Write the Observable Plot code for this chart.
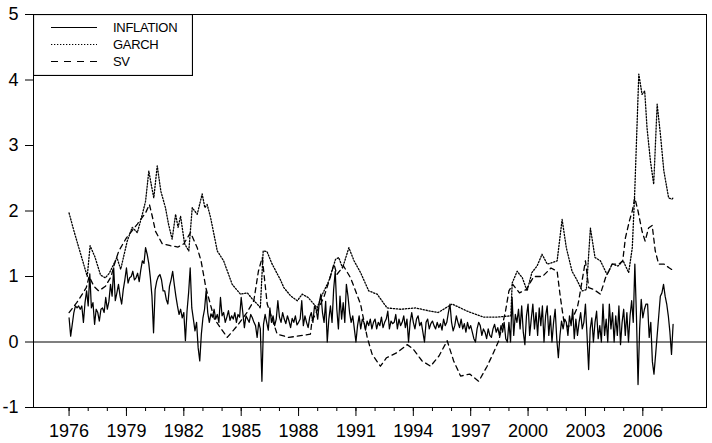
<!DOCTYPE html>
<html><head><meta charset="utf-8">
<script src="https://cdn.jsdelivr.net/npm/d3@7"></script>
<script src="https://cdn.jsdelivr.net/npm/@observablehq/plot@0.6"></script>
<style>
body{margin:0;background:#fff;}
#wrap{position:relative;width:712px;height:443px;font-family:"Liberation Sans",Arial,sans-serif;}
#legend{position:absolute;left:33px;top:14px;}
svg.mainchart text{font-size:18px !important;font-family:"Liberation Sans",Arial,sans-serif;}
</style></head><body><div id="wrap"></div>
<script>
const seriesNames = ["INFLATION", "GARCH", "SV"];
const startYear = 1976;
// monthly inflation, one row per year (1976 ... 2007)
const inflationMonthly = [
  [0.37, 0.09, 0.27, 0.45, 0.55, 0.52, 0.55, 0.5, 0.55, 0.3, 0.6, 0.78],
  [0.55, 1.04, 0.52, 0.6, 0.27, 0.5, 0.45, 0.32, 0.5, 0.52, 0.45, 0.68],
  [0.5, 0.62, 0.88, 0.7, 1.13, 0.63, 0.75, 0.88, 0.7, 0.58, 0.8, 0.95],
  [1.13, 0.9, 0.98, 1.0, 1.08, 0.95, 0.98, 1.05, 0.92, 1.1, 1.24, 1.2],
  [1.44, 1.34, 1.2, 0.98, 0.7, 0.14, 0.8, 0.93, 1.0, 1.03, 0.95, 0.78],
  [0.78, 0.65, 0.58, 0.85, 0.95, 1.08, 0.88, 0.7, 0.55, 0.42, 0.5, 0.37],
  [0.45, 0.02, 0.47, 0.75, 1.13, 0.52, 0.35, 0.17, 0.3, -0.09, -0.29, 0.12],
  [0.37, 0.5, 0.78, 0.45, 0.3, 0.43, 0.38, 0.5, 0.35, 0.42, 0.3, 0.68],
  [0.4, 0.45, 0.3, 0.38, 0.48, 0.33, 0.4, 0.35, 0.45, 0.3, 0.42, 0.38],
  [0.68, 0.45, 0.22, 0.4, 0.35, 0.3, 0.42, 0.37, 0.3, 0.25, 0.07, 0.3],
  [0.2, -0.6, 0.27, 0.42, 0.3, 0.18, 0.52, 0.3, 0.4, 0.25, 0.35, 0.63],
  [0.38, 0.3, 0.45, 0.35, 0.28, 0.4, 0.32, 0.22, 0.36, 0.3, 0.4, 0.26],
  [0.3, 0.35, 0.63, 0.25, 0.4, 0.3, 0.22, 0.38, 0.45, 0.3, 0.55, 0.5],
  [0.35, 0.6, 0.73, 0.45, 0.3, 0.62, 0.0, 0.35, 0.55, 0.3, 0.8, 1.08],
  [0.5, 0.2, 0.7, 0.35, 0.6, 0.3, 0.88, 0.7, 0.45, 0.3, 0.4, 0.2],
  [0.0, 0.25, 0.4, 0.2, 0.35, 0.3, 0.18, 0.32, 0.25, 0.35, 0.2, 0.3],
  [0.35, 0.2, 0.3, 0.25, 0.38, 0.22, 0.3, 0.35, 0.47, 0.2, 0.32, 0.28],
  [0.3, 0.42, 0.2, 0.35, 0.25, 0.3, 0.4, 0.22, 0.35, 0.0, 0.3, 0.45],
  [0.3, 0.2, 0.35, 0.4, 0.25, 0.3, 0.15, 0.0, 0.3, 0.35, 0.2, 0.28],
  [0.32, 0.25, 0.2, 0.3, 0.22, 0.28, 0.18, 0.35, 0.25, 0.3, 0.45, 0.58],
  [0.3, 0.17, 0.25, 0.4, 0.3, 0.22, 0.35, 0.2, 0.28, 0.15, 0.3, 0.2],
  [0.25, 0.15, 0.05, 0.0, 0.2, 0.3, 0.25, 0.1, 0.2, 0.15, 0.05, 0.2],
  [0.1, 0.07, 0.2, 0.27, 0.15, 0.22, 0.1, 0.25, 0.15, 0.3, 0.05, 0.0],
  [0.3, 0.0, 0.68, 0.1, 0.42, 0.3, 0.5, 0.2, 0.55, 0.15, -0.04, 0.4],
  [0.58, 0.1, 0.35, 0.58, 0.2, 0.45, 0.1, 0.52, 0.25, 0.55, 0.0, 0.4],
  [0.55, 0.1, 0.4, 0.0, 0.3, 0.5, 0.05, -0.24, 0.1, 0.32, 0.2, 0.35],
  [0.3, 0.1, 0.4, 0.25, 0.5, 0.05, 0.35, 0.1, 0.3, 0.45, 0.2, 0.3],
  [0.58, 0.1, -0.42, 0.2, 0.37, 0.0, 0.3, 0.47, 0.05, 0.25, 0.0, 0.58],
  [0.1, 0.35, 0.0, 0.58, 0.2, 0.45, 0.0, 0.4, 0.1, 0.55, -0.04, 0.3],
  [0.5, 0.1, 0.45, 0.0, 0.4, 0.63, 0.3, 1.19, 0.4, -0.65, 0.2, 0.65],
  [0.37, 0.5, 0.58, 0.58, 0.07, 0.3, -0.3, -0.49, -0.2, 0.1, 0.4, 0.7],
  [0.75, 0.88, 0.7, 0.58, 0.4, 0.15, -0.19, 0.27]
];
// GARCH conditional volatility: [year, value]
const garch = [
  [1976.0,1.97],[1976.25,1.7],[1976.5,1.45],[1976.75,1.2],[1976.95,1.0],[1977.1,1.47],[1977.35,1.3],
  [1977.65,1.02],[1977.9,0.98],[1978.1,1.05],[1978.34,1.19],[1978.5,1.29],[1978.7,1.11],[1979.04,1.54],
  [1979.3,1.75],[1979.57,1.67],[1979.83,1.95],[1980.0,2.15],[1980.17,2.61],[1980.3,2.4],[1980.43,2.2],
  [1980.61,2.69],[1980.8,2.3],[1981.04,2.05],[1981.2,1.8],[1981.39,1.57],[1981.57,1.95],[1981.7,1.75],
  [1981.83,1.92],[1982.04,1.5],[1982.26,1.39],[1982.44,2.05],[1982.7,1.95],[1982.96,2.26],[1983.1,2.05],
  [1983.22,2.1],[1983.4,1.9],[1983.75,1.39],[1984.08,1.24],[1984.53,0.88],[1984.96,0.73],[1985.32,0.75],
  [1985.6,0.65],[1985.84,0.58],[1986.0,0.52],[1986.15,1.39],[1986.35,1.38],[1986.6,1.2],[1987.05,0.95],
  [1987.23,0.83],[1987.6,0.7],[1987.93,0.63],[1988.19,0.73],[1988.5,0.68],[1988.97,0.52],[1989.2,0.7],
  [1989.58,0.93],[1989.93,1.26],[1990.1,1.29],[1990.3,1.13],[1990.63,1.44],[1990.9,1.24],[1991.24,1.06],
  [1991.67,0.78],[1992.11,0.73],[1992.63,0.52],[1993.33,0.5],[1994.11,0.52],[1994.9,0.47],[1995.3,0.45],
  [1996.03,0.58],[1996.82,0.47],[1997.68,0.38],[1998.38,0.38],[1999.1,0.4],[1999.17,0.9],[1999.43,1.08],
  [1999.7,0.98],[1999.95,0.78],[2000.2,1.06],[2000.47,1.16],[2000.73,1.34],[2001.0,1.19],[2001.25,1.21],
  [2001.52,1.24],[2001.78,1.87],[2002.0,1.44],[2002.3,1.08],[2002.55,0.95],[2002.83,0.78],[2003.05,0.8],
  [2003.26,1.74],[2003.5,1.29],[2003.78,1.24],[2004.13,1.03],[2004.4,1.19],[2004.7,1.16],[2004.97,1.24],
  [2005.26,1.06],[2005.45,1.44],[2005.58,2.31],[2005.79,4.09],[2005.96,3.78],[2006.1,3.83],[2006.22,3.27],
  [2006.4,2.76],[2006.57,2.41],[2006.75,3.63],[2006.92,3.17],[2007.1,2.61],[2007.35,2.2],[2007.52,2.18],
  [2007.58,2.2]
];
// stochastic volatility: [year, value]
const sv = [
  [1976.0,0.45],[1976.4,0.6],[1976.69,0.73],[1976.9,0.83],[1977.05,1.0],[1977.3,0.85],[1977.55,0.78],
  [1977.9,0.85],[1978.2,1.0],[1978.34,1.16],[1978.6,1.39],[1979.0,1.59],[1979.57,1.8],[1980.0,1.97],
  [1980.2,2.1],[1980.35,1.92],[1980.52,1.69],[1980.87,1.5],[1981.3,1.47],[1981.7,1.45],[1982.0,1.5],
  [1982.35,1.67],[1982.7,1.44],[1982.9,1.24],[1983.05,1.0],[1983.15,0.83],[1983.6,0.35],[1984.27,0.07],
  [1984.8,0.25],[1985.3,0.45],[1985.66,0.63],[1985.9,1.08],[1986.1,1.29],[1986.25,0.88],[1986.36,0.58],
  [1986.88,0.12],[1987.49,0.07],[1988.2,0.1],[1988.62,0.12],[1988.7,0.32],[1989.32,0.68],[1989.67,1.0],
  [1989.85,1.19],[1990.0,1.03],[1990.35,1.16],[1990.72,0.98],[1991.24,0.58],[1991.59,0.07],[1991.85,-0.19],
  [1992.28,-0.37],[1992.6,-0.24],[1993.16,-0.16],[1993.68,-0.04],[1994.0,-0.11],[1994.46,-0.29],[1994.9,-0.37],
  [1995.35,-0.21],[1995.77,0.02],[1996.11,-0.29],[1996.47,-0.52],[1996.95,-0.49],[1997.42,-0.6],[1997.86,-0.37],
  [1998.15,-0.19],[1998.47,0.02],[1998.82,0.47],[1999.0,0.78],[1999.2,0.88],[1999.55,0.75],[1999.9,0.8],
  [2000.3,1.0],[2000.75,1.0],[2001.2,1.13],[2001.52,1.08],[2001.69,0.68],[2001.87,0.32],[2002.1,0.22],
  [2002.57,0.52],[2002.65,0.63],[2003.0,1.24],[2003.17,0.83],[2003.45,0.8],[2003.78,0.73],[2004.05,0.98],
  [2004.4,1.19],[2004.75,1.19],[2004.95,1.24],[2005.09,1.59],[2005.3,1.85],[2005.45,2.0],[2005.58,2.2],
  [2005.75,2.0],[2005.96,1.69],[2006.12,1.54],[2006.3,1.74],[2006.49,1.78],[2006.65,1.39],[2006.83,1.19],
  [2007.1,1.19],[2007.39,1.13],[2007.55,1.1]
];
const yTicks = [-1, 0, 1, 2, 3, 4, 5];
const xLabelYears = [1976, 1979, 1982, 1985, 1988, 1991, 1994, 1997, 2000, 2003, 2006];
const xMinorYears = d3.range(1976, 2008);

const inflation = inflationMonthly.flatMap((row, yi) =>
  row.map((v, m) => [startYear + yi + m / 12, v]));

const fontFamily = '"Liberation Sans",Arial,sans-serif';
const chart = Plot.plot({
  width: 712, height: 443,
  className: "mainchart",
  marginLeft: 33, marginRight: 6, marginTop: 14, marginBottom: 36,
  style: {fontFamily, fontSize: "18px", background: "#fff", color: "#000"},
  x: {type: "linear", domain: [1974.14, 2009.33]},
  y: {domain: [-1, 5]},
  marks: [
    Plot.ruleY([0], {stroke: "#555", strokeWidth: 1.6}),
    Plot.line(garch, {x: d => d[0], y: d => d[1], stroke: "#000", strokeWidth: 1.3, strokeDasharray: "1.3,1.7"}),
    Plot.line(sv, {x: d => d[0], y: d => d[1], stroke: "#000", strokeWidth: 1.3, strokeDasharray: "5,4"}),
    Plot.line(inflation, {x: d => d[0], y: d => d[1], stroke: "#000", strokeWidth: 1.25}),
    Plot.frame({stroke: "#000", strokeWidth: 1}),
    Plot.axisY({ticks: yTicks, tickSize: 8, tickPadding: 7, tickFormat: d => String(d)}),
    Plot.axisX({ticks: xMinorYears, tickSize: 4, tickFormat: () => ""}),
    Plot.axisX({ticks: xLabelYears, tickSize: 9, tickPadding: 8, tickFormat: d => String(d)})
  ]
});
const wrap = document.getElementById("wrap");
wrap.appendChild(chart);

// legend box inside the plot frame
const styles = {INFLATION: null, GARCH: "1.3,1.7", SV: "7,6"};
const lg = d3.select(wrap).append("svg").attr("id", "legend")
  .attr("width", 160).attr("height", 62);
lg.append("rect").attr("x", 0.5).attr("y", 0.5).attr("width", 159).attr("height", 61)
  .attr("fill", "#fff").attr("stroke", "#000").attr("stroke-width", 1.2);
seriesNames.forEach((name, i) => {
  const y = 13.5 + i * 17;
  lg.append("line").attr("x1", 18).attr("x2", 64).attr("y1", y).attr("y2", y)
    .attr("stroke", "#000").attr("stroke-width", name === "GARCH" ? 1.1 : 1.2)
    .attr("stroke-dasharray", styles[name]);
  lg.append("text").attr("x", 80).attr("y", y).attr("dy", "0.36em")
    .attr("font-family", fontFamily).attr("font-size", 13).attr("letter-spacing", "-0.3")
    .text(name);
});
</script></body></html>
